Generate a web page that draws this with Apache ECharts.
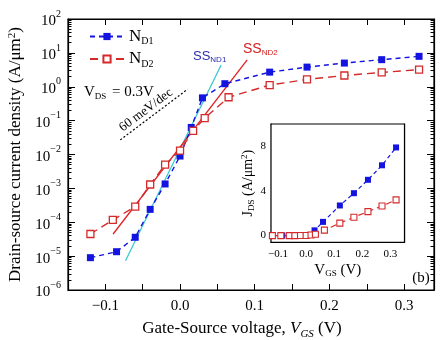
<!DOCTYPE html>
<html>
<head>
<meta charset="utf-8">
<script src="https://cdn.jsdelivr.net/npm/echarts@6/dist/echarts.min.js"></script>
<style>
  html, body { margin: 0; padding: 0; background: #fff; }
  #chart { width: 440px; height: 340px; }
</style>
</head>
<body>
<div id="chart"></div>
<script>
// N_D1 (filled squares) and N_D2 (open squares), J_DS in A/um^2
var vgs1 = [-0.12, -0.085, -0.06, -0.04, -0.02, 0.0, 0.015, 0.03, 0.06, 0.12, 0.17, 0.22, 0.27, 0.32];
var jd1 = [9e-6, 1.35e-5, 3.6e-5, 2.4e-4, 1.35e-3, 9e-3, 0.063, 0.47, 1.23, 2.7, 3.8, 5.0, 6.3, 7.9];
var vgs2 = [-0.12, -0.09, -0.06, -0.04, -0.02, 0.0, 0.0175, 0.033, 0.065, 0.12, 0.17, 0.22, 0.27, 0.32];
var jd2 = [4.5e-5, 1.17e-4, 2.9e-4, 1.3e-3, 5e-3, 1.3e-2, 0.05, 0.118, 0.49, 1.12, 1.65, 2.15, 2.65, 3.2];

// subthreshold slope fits and the 60 meV/dec guide
var ss1V = [-0.073, 0.055], ss1J = [7.3e-6, 4.4];
var ss2V = [-0.0896, 0.0899], ss2J = [4.5e-5, 6.2];
var ref60V = [-0.08, 0.01], ref60J = [0.027, 0.84];

// ticks
var xTicks = [-0.1, -0.05, 0, 0.05, 0.1, 0.15, 0.2, 0.25, 0.3];
var xLabels = [-0.1, 0, 0.1, 0.2, 0.3];
var insetYTicks = [0, 4, 8];

var FONT = 'Liberation Serif';
var BLUE = '#1414e0', RED = '#d42a2a', CYAN = '#3cc8d2';

function zip(a, b) { return a.map(function (v, i) { return [v, b[i]]; }); }
function fmtX(v) { return v.toFixed(1).replace('-', '\u2212'); }
function blank() { return ''; }

// minor log ticks (2..9 in every decade), in log10 space for the overlay axis
var minorLog = [];
for (var d = -6; d < 2; d++) {
  for (var k = 2; k <= 9; k++) minorLog.push(d + Math.log10(k));
}

var chart = echarts.init(document.getElementById('chart'));

var axisLine = { show: true, onZero: false, lineStyle: { color: '#000', width: 1.2 } };
// hidden labels must still be "shown", otherwise the mirror axes vanish
var noLabel = { show: true, formatter: blank };
var supRich = {
  b: { fontFamily: FONT, fontSize: 15, color: '#000', lineHeight: 20, verticalAlign: 'bottom' },
  s: { fontFamily: FONT, fontSize: 10, color: '#000', lineHeight: 20, verticalAlign: 'top', padding: [0, 0, 6, 0] }
};

function minorAxis(pos, grid) {
  return {
    type: 'value', gridIndex: grid, position: pos, min: -6, max: 2,
    axisLine: { show: false, onZero: false }, axisLabel: noLabel, splitLine: { show: false },
    axisTick: { show: true, inside: true, length: 3.5, customValues: minorLog, lineStyle: { color: '#000' } }
  };
}

var option = {
  animation: false,
  backgroundColor: '#fff',
  grid: [
    { left: 68, top: 19, right: 6, bottom: 50, outerBoundsMode: 'none',
      show: true, borderColor: '#000', borderWidth: 1.2, backgroundColor: 'transparent' },
    { left: 271, top: 124, width: 133.5, height: 118.3, outerBoundsMode: 'none',
      show: true, backgroundColor: '#fff', borderColor: '#000', borderWidth: 1.2, z: 5 }
  ],
  legend: {
    data: ['N_D1', 'N_D2'],
    orient: 'vertical',
    left: 84, top: 23,
    itemWidth: 34, itemHeight: 9, itemGap: 4,
    formatter: function (n) { return '{n|N}{s|' + n.split('_')[1] + '}'; },
    textStyle: {
      rich: {
        n: { fontFamily: FONT, fontSize: 17, color: '#000', lineHeight: 20 },
        s: { fontFamily: FONT, fontSize: 10, color: '#000', lineHeight: 20, verticalAlign: 'bottom', padding: [8, 0, 0, 0] }
      }
    }
  },
  xAxis: [
    {
      type: 'value', gridIndex: 0, min: -0.15, max: 0.34, position: 'bottom',
      axisLine: axisLine, splitLine: { show: false },
      axisTick: { inside: true, length: 6, customValues: xTicks, lineStyle: { color: '#000' } },
      axisLabel: { customValues: xLabels, formatter: fmtX, fontFamily: FONT, fontSize: 15, color: '#000', margin: 9 },
      name: 'Gate-Source voltage, {i|V}{sub|GS} (V)',
      nameLocation: 'middle', nameGap: 28,
      nameTextStyle: {
        fontFamily: FONT, fontSize: 17, color: '#000', padding: [0, 18, 0, 0],
        rich: {
          i: { fontFamily: FONT, fontSize: 17, fontStyle: 'italic', color: '#000', lineHeight: 22 },
          sub: { fontFamily: FONT, fontSize: 11, fontStyle: 'italic', color: '#000', lineHeight: 22, verticalAlign: 'bottom', padding: [8, 0, 0, 0] }
        }
      }
    },
    {
      type: 'value', gridIndex: 0, min: -0.15, max: 0.34, position: 'top',
      axisLine: axisLine, splitLine: { show: false }, axisLabel: noLabel,
      axisTick: { inside: true, length: 6, customValues: xTicks, lineStyle: { color: '#000' } }
    },
    {
      type: 'value', gridIndex: 1, min: -0.125, max: 0.35, position: 'bottom',
      axisLine: axisLine, splitLine: { show: false },
      axisTick: { inside: true, length: 3.5, customValues: xTicks, lineStyle: { color: '#000' } },
      axisLabel: { customValues: xLabels, formatter: fmtX, fontFamily: FONT, fontSize: 11, color: '#000', margin: 6 },
      name: 'V{sub|GS} (V)', nameLocation: 'middle', nameGap: 19,
      nameTextStyle: {
        fontFamily: FONT, fontSize: 15, color: '#000',
        rich: { sub: { fontFamily: FONT, fontSize: 9, color: '#000', verticalAlign: 'bottom', padding: [8, 0, 0, 0] } }
      }
    },
    {
      type: 'value', gridIndex: 1, min: -0.125, max: 0.35, position: 'top',
      axisLine: axisLine, splitLine: { show: false }, axisLabel: noLabel,
      axisTick: { inside: true, length: 3.5, customValues: xTicks, lineStyle: { color: '#000' } }
    }
  ],
  yAxis: [
    {
      type: 'log', logBase: 10, gridIndex: 0, min: 1e-6, max: 100, interval: 1, position: 'left',
      axisLine: axisLine, splitLine: { show: false }, minorTick: { show: false },
      axisTick: { inside: true, length: 7, lineStyle: { color: '#000' } },
      axisLabel: {
        margin: 7,
        formatter: function (v) {
          var e = Math.round(Math.log10(v));
          return '{b|10}{s|' + (e < 0 ? '\u2212' + (-e) : e) + '}';
        },
        rich: supRich
      },
      name: 'Drain-source current density (A/\u03bcm{s|2})',
      nameLocation: 'middle', nameGap: 41, nameRotate: 90,
      nameTextStyle: {
        fontFamily: FONT, fontSize: 17, color: '#000',
        rich: { s: { fontFamily: FONT, fontSize: 11, color: '#000', verticalAlign: 'top', padding: [0, 0, 8, 0] } }
      }
    },
    {
      type: 'log', logBase: 10, gridIndex: 0, min: 1e-6, max: 100, interval: 1, position: 'right',
      axisLine: axisLine, splitLine: { show: false }, axisLabel: noLabel,
      axisTick: { inside: true, length: 7, lineStyle: { color: '#000' } }
    },
    minorAxis('left', 0),
    minorAxis('right', 0),
    {
      type: 'value', gridIndex: 1, min: -0.6, max: 10, position: 'left',
      axisLine: axisLine, splitLine: { show: false },
      axisTick: { inside: true, length: 3.5, customValues: insetYTicks, lineStyle: { color: '#000' } },
      axisLabel: { customValues: insetYTicks, fontFamily: FONT, fontSize: 11, color: '#000', margin: 5 },
      name: 'J{sub|DS} (A/\u03bcm{sup|2})', nameLocation: 'middle', nameGap: 13, nameRotate: 90,
      nameTextStyle: {
        fontFamily: FONT, fontSize: 14, color: '#000',
        rich: {
          sub: { fontFamily: FONT, fontSize: 9, color: '#000', verticalAlign: 'bottom', padding: [7, 0, 0, 0] },
          sup: { fontFamily: FONT, fontSize: 9, color: '#000', verticalAlign: 'top', padding: [0, 0, 7, 0] }
        }
      }
    },
    {
      type: 'value', gridIndex: 1, min: -0.6, max: 10, position: 'right',
      axisLine: axisLine, splitLine: { show: false }, axisLabel: noLabel,
      axisTick: { inside: true, length: 3.5, customValues: insetYTicks, lineStyle: { color: '#000' } }
    }
  ],
  series: [
    {
      name: 'fit1', type: 'line', xAxisIndex: 0, yAxisIndex: 0, data: zip(ss1V, ss1J),
      symbol: 'none', lineStyle: { color: CYAN, width: 1.3 }, silent: true
    },
    {
      name: 'fit2', type: 'line', xAxisIndex: 0, yAxisIndex: 0, data: zip(ss2V, ss2J),
      symbol: 'none', lineStyle: { color: '#e02020', width: 1.3 }, silent: true
    },
    {
      name: 'ref60', type: 'line', xAxisIndex: 0, yAxisIndex: 0, data: zip(ref60V, ref60J),
      symbol: 'none', lineStyle: { color: '#000', width: 1.2, type: [2, 2] }, silent: true
    },
    {
      name: 'N_D1', type: 'line', xAxisIndex: 0, yAxisIndex: 0, data: zip(vgs1, jd1),
      symbol: 'rect', symbolSize: 7, showAllSymbol: true, color: BLUE,
      itemStyle: { color: BLUE },
      lineStyle: { color: BLUE, width: 1.4, type: [5, 4] }
    },
    {
      name: 'N_D2', type: 'line', xAxisIndex: 0, yAxisIndex: 0, data: zip(vgs2, jd2),
      symbol: 'rect', symbolSize: 7, showAllSymbol: true, color: RED,
      itemStyle: { color: '#fff', borderColor: RED, borderWidth: 1.3 },
      lineStyle: { color: RED, width: 1.4, type: [8, 5] }
    },
    {
      name: 'in1', type: 'line', xAxisIndex: 2, yAxisIndex: 4, data: zip(vgs1, jd1), z: 6,
      symbol: 'rect', symbolSize: 6, showAllSymbol: true, itemStyle: { color: BLUE },
      lineStyle: { color: BLUE, width: 1.2, type: [4, 3] }
    },
    {
      name: 'in2', type: 'line', xAxisIndex: 2, yAxisIndex: 4, data: zip(vgs2, jd2), z: 6,
      symbol: 'rect', symbolSize: 6, showAllSymbol: true,
      itemStyle: { color: '#fff', borderColor: RED, borderWidth: 1.1 },
      lineStyle: { color: RED, width: 1.2, type: [6, 4] }
    }
  ],
  graphic: [
    {
      type: 'text', x: 84, y: 92,
      style: {
        text: '{v|V}{s|DS}{v| = 0.3V}', textVerticalAlign: 'middle',
        rich: {
          v: { fontFamily: FONT, fontSize: 15, fill: '#000', lineHeight: 18 },
          s: { fontFamily: FONT, fontSize: 9, fill: '#000', lineHeight: 18, verticalAlign: 'bottom', padding: [6, 2, 0, 0] }
        }
      }
    },
    {
      type: 'text', x: 193, y: 56,
      style: {
        text: '{a|SS}{b|ND1}', textVerticalAlign: 'middle',
        rich: {
          a: { fontFamily: 'Liberation Sans', fontSize: 13, fill: '#2b2bb0', lineHeight: 16 },
          b: { fontFamily: 'Liberation Sans', fontSize: 8, fill: '#2b2bb0', lineHeight: 16, verticalAlign: 'bottom', padding: [6, 0, 0, 0] }
        }
      }
    },
    {
      type: 'text', x: 243, y: 49,
      style: {
        text: '{a|SS}{b|ND2}', textVerticalAlign: 'middle',
        rich: {
          a: { fontFamily: 'Liberation Sans', fontSize: 14, fill: '#d42020', lineHeight: 16 },
          b: { fontFamily: 'Liberation Sans', fontSize: 8, fill: '#d42020', lineHeight: 16, verticalAlign: 'bottom', padding: [6, 0, 0, 0] }
        }
      }
    },
    {
      type: 'text', x: 146, y: 110, rotation: 37 * Math.PI / 180,
      style: { text: '60 meV/dec', font: '13px "Liberation Serif"', fill: '#000', textAlign: 'center', textVerticalAlign: 'middle' }
    },
    {
      type: 'text', x: 421, y: 278,
      style: { text: '(b)', font: '15px "Liberation Serif"', fill: '#000', textAlign: 'center', textVerticalAlign: 'middle' }
    }
  ]
};

chart.setOption(option);
</script>
</body>
</html>
